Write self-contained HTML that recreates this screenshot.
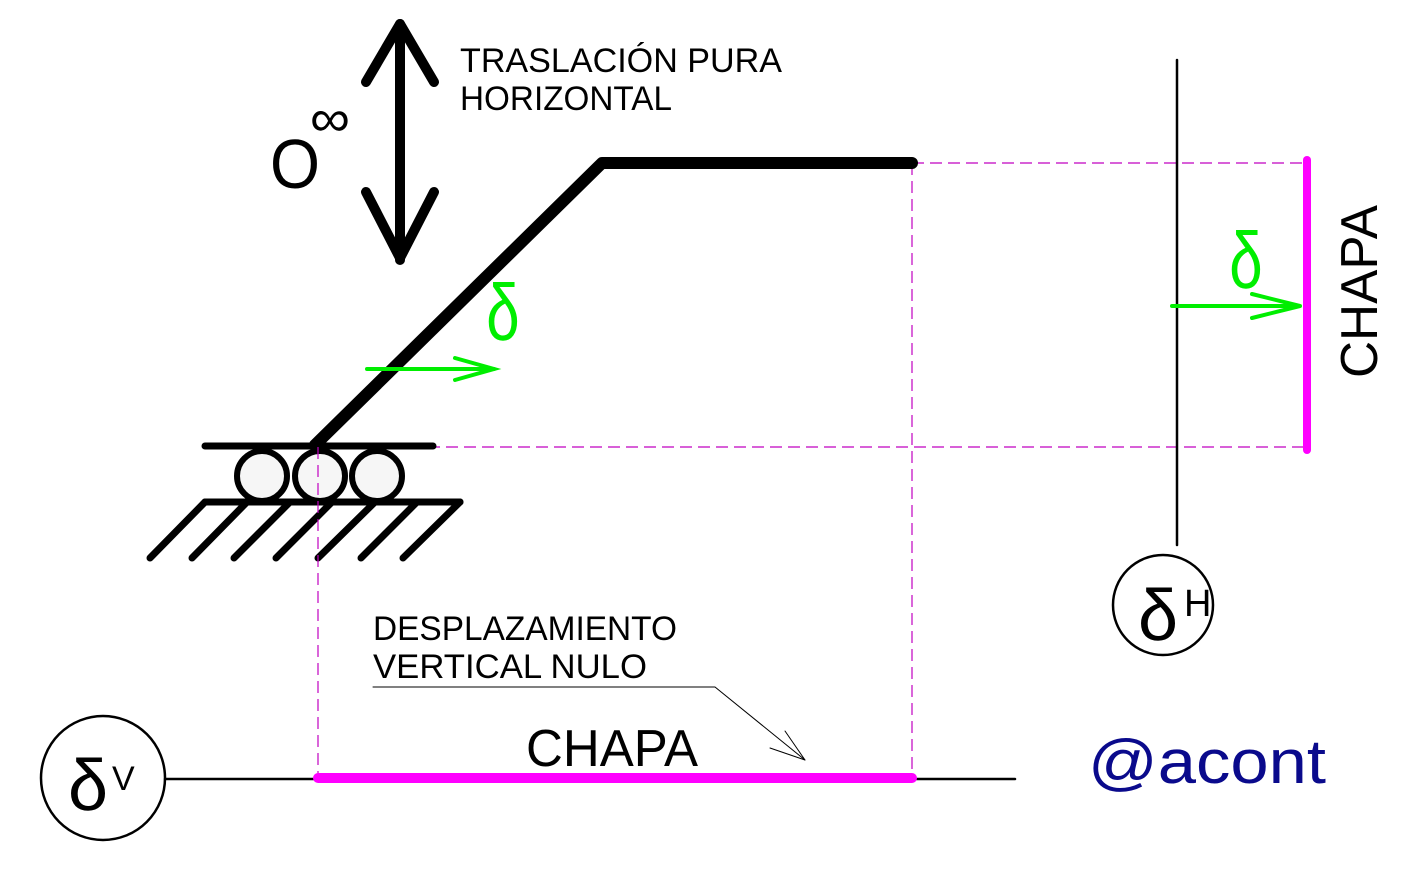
<!DOCTYPE html>
<html><head><meta charset="utf-8"><style>html,body{margin:0;padding:0;background:#fff}svg{display:block}</style></head>
<body>
<svg width="1418" height="869" viewBox="0 0 1418 869" xmlns="http://www.w3.org/2000/svg" font-family="Liberation Sans, sans-serif">
<g stroke="#c000c0" stroke-width="1.2" stroke-dasharray="12 6" fill="none">
<line x1="912" y1="163" x2="1307" y2="163"/>
<line x1="320" y1="447" x2="1307" y2="447"/>
<line x1="912" y1="163" x2="912" y2="778"/>
</g>
<g stroke="#000" stroke-linecap="round" stroke-linejoin="round" fill="none">
<polyline points="315,445 602,163 912,163" stroke-width="12"/>
<line x1="400" y1="24" x2="400" y2="260" stroke-width="10"/>
<polyline points="366,82 400,24 434,82" stroke-width="10"/>
<polyline points="366,192 400,258 434,192" stroke-width="10"/>
<line x1="205" y1="446" x2="433" y2="446" stroke-width="7"/>
<line x1="205" y1="502" x2="460" y2="502" stroke-width="7"/>
<g stroke-width="7">
<line x1="205" y1="502" x2="150" y2="558"/><line x1="247" y1="502" x2="192" y2="558"/>
<line x1="290" y1="502" x2="234" y2="558"/><line x1="332" y1="502" x2="276" y2="558"/>
<line x1="375" y1="502" x2="318" y2="558"/><line x1="417" y1="502" x2="361" y2="558"/>
<line x1="460" y1="502" x2="403" y2="558"/>
</g>
<g fill="#f6f6f6" stroke-width="6">
<circle cx="262" cy="476" r="25"/><circle cx="320" cy="476" r="25"/><circle cx="377" cy="476" r="25"/>
</g>
<line x1="1177" y1="60" x2="1177" y2="545" stroke-width="2.5"/>
<circle cx="1163" cy="605" r="50" stroke-width="2.5"/>
<line x1="165" y1="779" x2="1015" y2="779" stroke-width="2.5"/>
<circle cx="103" cy="778" r="62" stroke-width="2.5"/>
<polyline points="373,687 715,687 805,760" stroke-width="1"/>
<polyline points="770,748 805,760 785,731" stroke-width="1"/>
</g>
<line x1="318" y1="447" x2="318" y2="778" stroke="#c000c0" stroke-width="1.2" stroke-dasharray="12 6"/>
<g stroke="#ff00ff" stroke-linecap="round">
<line x1="1307" y1="160" x2="1307" y2="450" stroke-width="8"/>
<line x1="318" y1="778" x2="912" y2="778" stroke-width="10"/>
</g>
<g stroke="#00ee00" stroke-width="4" fill="none" stroke-linecap="round">
<line x1="367" y1="369" x2="494" y2="369"/><polyline points="455,358 494,369 455,380"/>
<line x1="1172" y1="306" x2="1300" y2="306"/><polyline points="1252,294 1300,306 1252,318"/>
</g>
<g fill="#00ee00" font-size="80">
<text x="503" y="340" text-anchor="middle" transform="translate(503,312) scale(0.75,1) translate(-503,-312)">δ</text>
<text x="1246" y="288" text-anchor="middle" transform="translate(1246,260) scale(0.75,1) translate(-1246,-260)">δ</text>
</g>
<g fill="#000">
<text x="270" y="188" font-size="70" textLength="50" lengthAdjust="spacingAndGlyphs">O</text>
<text x="310" y="136" font-size="52" textLength="40" lengthAdjust="spacingAndGlyphs">∞</text>
<text x="460" y="72" font-size="34" textLength="322" lengthAdjust="spacingAndGlyphs">TRASLACIÓN PURA</text>
<text x="460" y="110" font-size="34" textLength="212" lengthAdjust="spacingAndGlyphs">HORIZONTAL</text>
<text x="373" y="640" font-size="34" textLength="304" lengthAdjust="spacingAndGlyphs">DESPLAZAMIENTO</text>
<text x="373" y="678" font-size="34" textLength="274" lengthAdjust="spacingAndGlyphs">VERTICAL NULO</text>
<text x="526" y="766" font-size="52" textLength="172" lengthAdjust="spacingAndGlyphs">CHAPA</text>
<text transform="translate(1377,378) rotate(-90)" font-size="52" textLength="173" lengthAdjust="spacingAndGlyphs">CHAPA</text>
<text x="1138" y="640" font-size="72">δ</text>
<text x="1184" y="616" font-size="38">H</text>
<text x="68" y="810" font-size="72">δ</text>
<text x="112" y="790" font-size="34">V</text>
</g>
<text x="1088" y="783" font-size="62" fill="#0a0a8c" textLength="238" lengthAdjust="spacingAndGlyphs">@acont</text>
</svg>
</body></html>
